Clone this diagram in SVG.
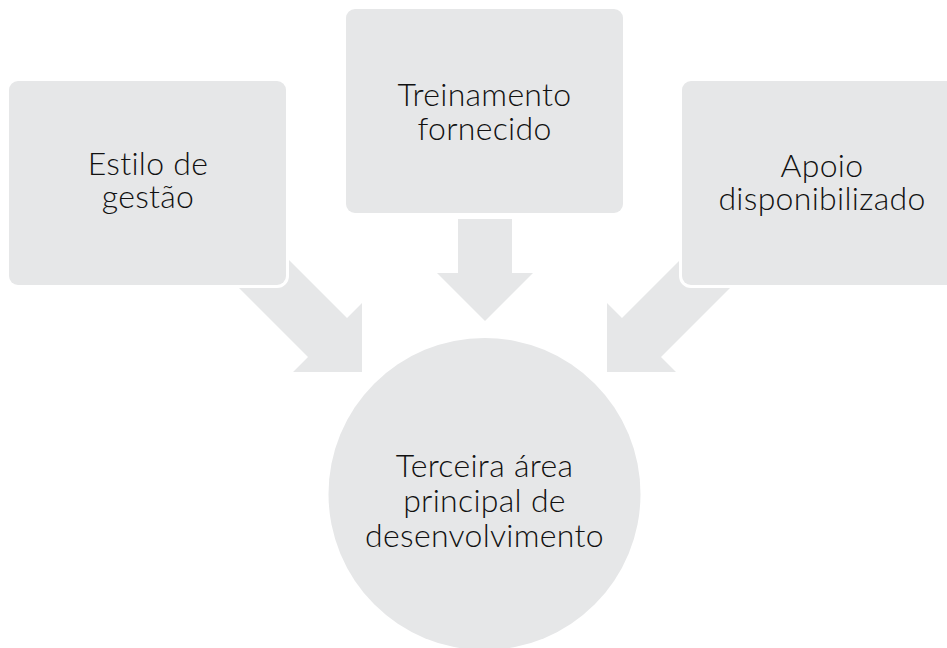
<svg xmlns="http://www.w3.org/2000/svg" width="947" height="648" viewBox="0 0 947 648">
  <style>
    .shape { fill: #e6e7e8; }
    .box { fill: #e6e7e8; stroke: #ffffff; stroke-width: 6; paint-order: stroke; }
    .lbl { font-family: Lato, "Noto Sans", "Liberation Sans", sans-serif; font-weight: 300; font-size: 32px; letter-spacing: 0.3px; fill: #111111; text-anchor: middle; }
  </style>
  <rect width="947" height="648" fill="#ffffff"/>
  <g id="connectors">
    <polygon class="shape" points="274.5,245.5 347,318 362,303 362,372 293,372 308,357 235.5,284.5"/>
    <polygon class="shape" points="458,219 512,219 512,273 533,273 485,321 437,273 458,273"/>
    <polygon class="shape" points="694.5,245.5 622,318 607,303 607,372 676,372 661,357 733.5,284.5"/>
  </g>
  <g id="node-estilo">
    <rect class="box" x="9" y="81" width="277" height="204" rx="9"/>
    <text class="lbl" x="148" y="175">Estilo de</text>
    <text class="lbl" x="148" y="208">gestão</text>
  </g>
  <g id="node-treinamento">
    <rect class="box" x="346" y="9" width="277" height="204" rx="9"/>
    <text class="lbl" x="484.5" y="106">Treinamento</text>
    <text class="lbl" x="484.5" y="140">fornecido</text>
  </g>
  <g id="node-apoio">
    <rect class="box" x="682" y="81" width="277" height="204" rx="9"/>
    <text class="lbl" x="822" y="177">Apoio</text>
    <text class="lbl" x="822" y="210">disponibilizado</text>
  </g>
  <g id="node-terceira">
    <circle class="shape" cx="484.5" cy="494" r="156"/>
    <text class="lbl" x="484.5" y="477">Terceira área</text>
    <text class="lbl" x="484.5" y="512">principal de</text>
    <text class="lbl" x="484.5" y="547">desenvolvimento</text>
  </g>
</svg>
